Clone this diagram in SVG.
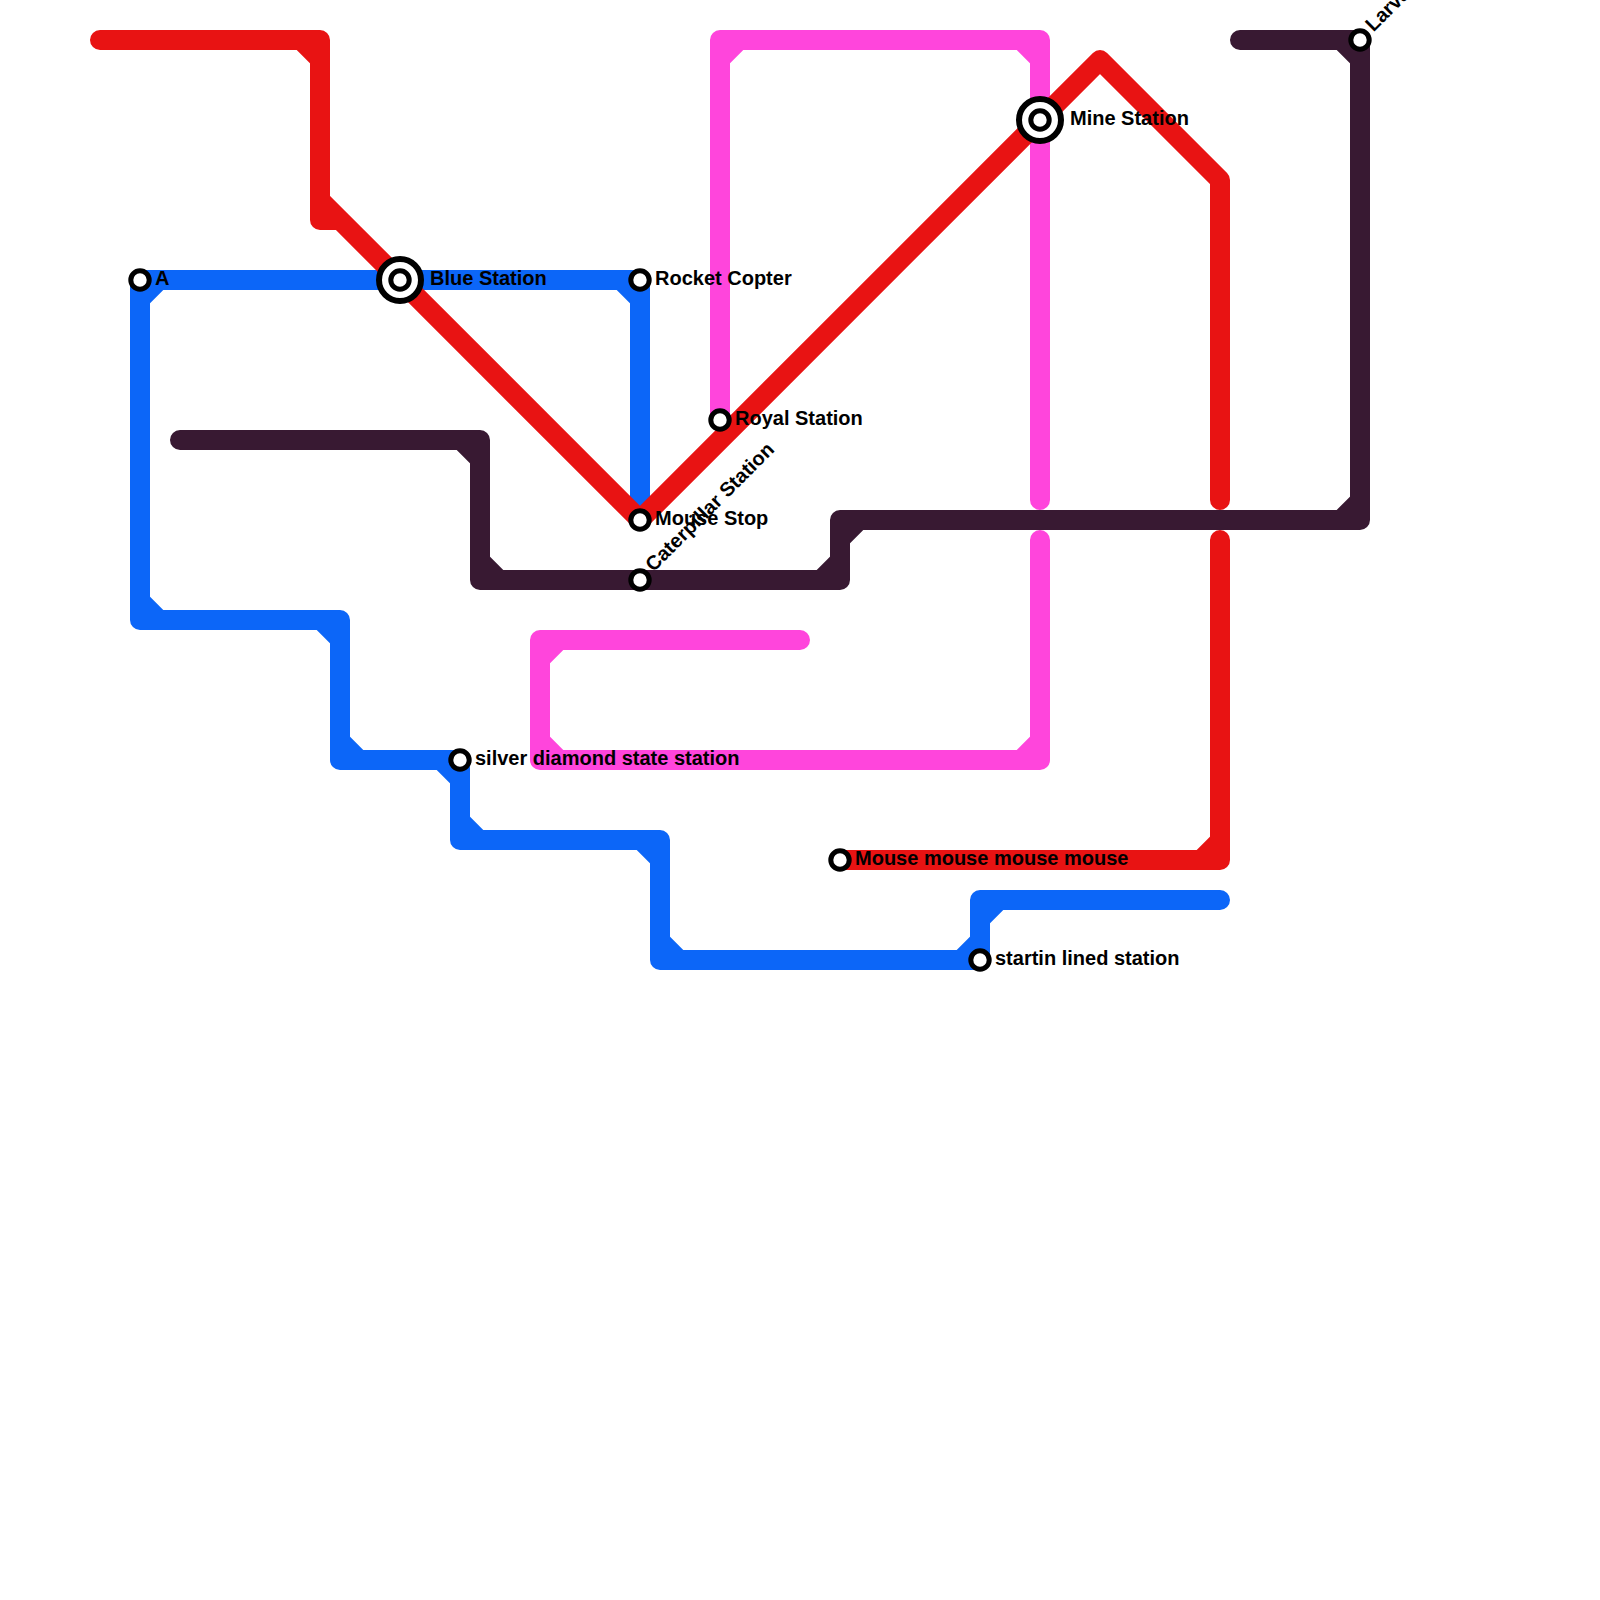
<svg xmlns="http://www.w3.org/2000/svg" width="1600" height="1600" viewBox="0 0 1600 1600">
<style>
.line{fill:none;stroke-width:20;stroke-linejoin:round;stroke-linecap:round}
.blue{stroke:#0c66f8}.mag{stroke:#ff45dc}.red{stroke:#e81313}.dark{stroke:#381932}
.st{fill:#fff;stroke:#000;stroke-width:5}
.hub{fill:#fff;stroke:#000;stroke-width:6}
text{font-family:"Liberation Sans",Arial,sans-serif;font-weight:bold;font-size:20px;fill:#000}
</style>
<rect width="1600" height="1600" fill="#fff"/>
<g id="connectors">
<path id="line-blue" class="line blue" d="M640,510V280H140V620H340V760H460V840H660V960H980V900H1220M620.800,280L640,299.200M159.200,280L140,299.200M140,600.800L159.200,620M320.800,620L340,639.200M340,740.800L359.200,760M440.800,760L460,779.200M460,820.800L479.200,840M640.800,840L660,859.200M660,940.800L679.200,960M960.800,960L980,940.800M980,919.200L999.200,900"/>
<path id="line-magenta" class="line mag" d="M720,420V40H1040V500M1040,540V760H540V640H800M720,59.200L739.200,40M1020.800,40L1040,59.200M1040,740.800L1020.800,760M559.200,760L540,740.800M540,659.200L559.200,640"/>
<path id="line-red" class="line red" d="M100,40H320V220H340L640,520L1100,60L1220,180V500M1220,540V860H840M300.800,40L320,59.200M1220,840.800L1200.800,860M320,200L340,220"/>
<path id="line-dark" class="line dark" d="M180,440H480V580H840V520H1360V40H1240M460.800,440L480,459.200M480,560.800L499.200,580M820.800,580L840,560.800M840,539.200L859.200,520M1340.800,520L1360,500.800M1340.800,40L1360,59.200"/>
</g>
<g id="station-a"><circle class="st" cx="140" cy="280" r="9.200"/><text x="155" y="284.500">A</text></g>
<g id="station-blue"><circle class="hub" cx="400" cy="280" r="21"/><circle class="st" cx="400" cy="280" r="9.200"/><text x="430" y="284.500">Blue Station</text></g>
<g id="station-rocket"><circle class="st" cx="640" cy="280" r="9.200"/><text x="655" y="284.500">Rocket Copter</text></g>
<g id="station-royal"><circle class="st" cx="720" cy="420" r="9.200"/><text x="735" y="424.500">Royal Station</text></g>
<g id="station-mouse-stop"><circle class="st" cx="640" cy="520" r="9.200"/><text x="655" y="524.500">Mouse Stop</text></g>
<g id="station-caterpillar"><circle class="st" cx="640" cy="580" r="9.200"/><text transform="translate(653.500,572.500) rotate(-45)">Caterpillar Station</text></g>
<g id="station-mine"><circle class="hub" cx="1040" cy="120" r="21"/><circle class="st" cx="1040" cy="120" r="9.200"/><text x="1070" y="124.500">Mine Station</text></g>
<g id="station-larva"><circle class="st" cx="1360" cy="40" r="9.200"/><text transform="translate(1373.500,32.500) rotate(-45)">Larva</text></g>
<g id="station-silver"><circle class="st" cx="460" cy="760" r="9.200"/><text x="475" y="764.500">silver diamond state station</text></g>
<g id="station-mouse"><circle class="st" cx="840" cy="860" r="9.200"/><text x="855" y="864.500">Mouse mouse mouse mouse</text></g>
<g id="station-startin"><circle class="st" cx="980" cy="960" r="9.200"/><text x="995" y="964.500">startin lined station</text></g>
</svg>
